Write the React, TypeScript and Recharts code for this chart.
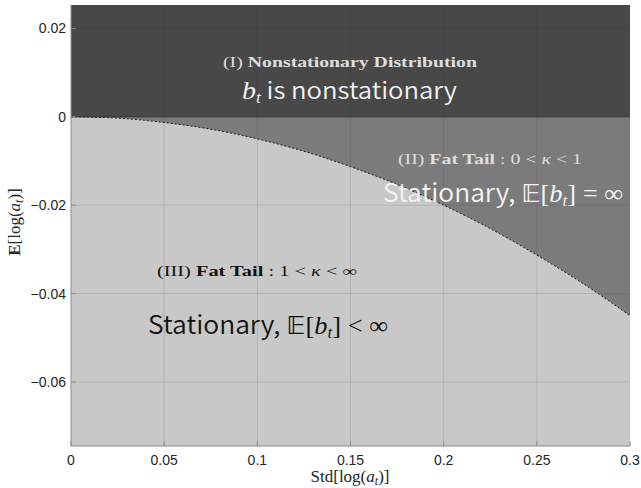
import {
  ComposedChart,
  Area,
  XAxis,
  YAxis,
  CartesianGrid,
  ReferenceArea,
  ReferenceLine,
} from "recharts";

// boundary curve
const stdLog = [0, 0.025, 0.05, 0.075, 0.1, 0.125, 0.15, 0.175, 0.2, 0.225, 0.25, 0.275, 0.3];
const meanLog = [0, -0.0003, -0.0013, -0.0028, -0.005, -0.0078, -0.0113, -0.0153, -0.02, -0.0253, -0.0313, -0.0378, -0.045];

const xTicks = [0, 0.05, 0.1, 0.15, 0.2, 0.25, 0.3];
const yTicks = [-0.06, -0.04, -0.02, 0, 0.02];
const xGrid = [0.05, 0.1, 0.15, 0.2, 0.25];
const yGrid = [-0.06, -0.04, -0.02, 0.02];

const data = stdLog.map((s, i) => ({ s, m: meanLog[i] }));

const fmt = (v: number) => (v < 0 ? "\u2212" + String(-v) : String(v));
const empty = () => "";

const serif = "'Liberation Serif', 'DejaVu Serif', serif";
const sans = "'Noto Sans CJK JP', 'Noto Sans', sans-serif";
const math = "'DejaVu Sans', 'Liberation Serif', serif";

const tickStyle = { fontSize: 14, fill: "#262626", fontFamily: "'Liberation Sans', Arial, sans-serif" };

function Overlay() {
  return (
    <svg
      width={641}
      height={488}
      style={{ position: "absolute", left: 0, top: 0, pointerEvents: "none" }}
    >
      {/* region I */}
      <text x={223} y={67} textLength={254} lengthAdjust="spacingAndGlyphs" fill="#dedede" fontFamily={serif} fontSize={14}>
        <tspan>{"(I) "}</tspan>
        <tspan fontWeight="bold">Nonstationary Distribution</tspan>
      </text>
      <text x={242} y={99} textLength={215} lengthAdjust="spacingAndGlyphs" fill="#f2f2f2">
        <tspan fontFamily={serif} fontStyle="italic" fontSize={25}>b</tspan>
        <tspan fontFamily={serif} fontStyle="italic" fontSize={16} dy={4}>t</tspan>
        <tspan fontFamily={sans} fontWeight={350} fontSize={23} dy={-4}>{" is nonstationary"}</tspan>
      </text>

      {/* region II */}
      <text x={398} y={164} textLength={184} lengthAdjust="spacingAndGlyphs" fill="#dedede" fontFamily={serif} fontSize={14}>
        <tspan>{"(II) "}</tspan>
        <tspan fontWeight="bold">Fat Tail</tspan>
        <tspan>{" : 0 < "}</tspan>
        <tspan fontStyle="italic">κ</tspan>
        <tspan>{" < 1"}</tspan>
      </text>
      <text x={383} y={202} textLength={240} lengthAdjust="spacingAndGlyphs" fill="#f5f5f5" fontSize={25}>
        <tspan fontFamily={sans} fontWeight={350}>{"Stationary, "}</tspan>
        <tspan fontFamily={math}>{"\u{1D53C}"}</tspan>
        <tspan fontFamily={serif}>[</tspan>
        <tspan fontFamily={serif} fontStyle="italic">b</tspan>
        <tspan fontFamily={serif} fontStyle="italic" fontSize={16} dy={4}>t</tspan>
        <tspan fontFamily={serif} dy={-4}>{"] = ∞"}</tspan>
      </text>

      {/* region III */}
      <text x={157} y={276} textLength={200} lengthAdjust="spacingAndGlyphs" fill="#111" fontFamily={serif} fontSize={14}>
        <tspan>{"(III) "}</tspan>
        <tspan fontWeight="bold">Fat Tail</tspan>
        <tspan>{" : 1 < "}</tspan>
        <tspan fontStyle="italic">κ</tspan>
        <tspan>{" < ∞"}</tspan>
      </text>
      <text x={148} y={334} textLength={240} lengthAdjust="spacingAndGlyphs" fill="#111" fontSize={25}>
        <tspan fontFamily={sans} fontWeight={350}>{"Stationary, "}</tspan>
        <tspan fontFamily={math}>{"\u{1D53C}"}</tspan>
        <tspan fontFamily={serif}>[</tspan>
        <tspan fontFamily={serif} fontStyle="italic">b</tspan>
        <tspan fontFamily={serif} fontStyle="italic" fontSize={16} dy={4}>t</tspan>
        <tspan fontFamily={serif} dy={-4}>{"] < ∞"}</tspan>
      </text>

      {/* axis labels */}
      <text x={350} y={482} textAnchor="middle" fill="#262626" fontFamily={serif} fontSize={17}>
        <tspan>Std[log(</tspan>
        <tspan fontStyle="italic">a</tspan>
        <tspan fontStyle="italic" fontSize={12} dy={3}>t</tspan>
        <tspan dy={-3}>)]</tspan>
      </text>
      <text
        x={0}
        y={0}
        transform="translate(20 222) rotate(-90)"
        textAnchor="middle"
        fill="#262626"
        fontFamily={serif}
        fontSize={17}
      >
        <tspan fontWeight="bold">E</tspan>
        <tspan>[log(</tspan>
        <tspan fontStyle="italic">a</tspan>
        <tspan fontStyle="italic" fontSize={12} dy={3}>t</tspan>
        <tspan dy={-3}>)]</tspan>
      </text>
    </svg>
  );
}

export default function App() {
  return (
    <div style={{ position: "absolute", left: 0, top: 0, width: 641, height: 488, background: "#fff" }}>
      <ComposedChart
        width={641}
        height={488}
        data={data}
        margin={{ top: 5, right: 11, bottom: 0, left: 0 }}
      >
        <CartesianGrid fill="#c8c8c8" stroke="none" />
        <XAxis
          xAxisId="b"
          type="number"
          dataKey="s"
          domain={[0, 0.3]}
          ticks={xTicks}
          tickFormatter={fmt}
          allowDataOverflow
          height={42}
          stroke="#8c8c8c"
          tickSize={-5}
          tickMargin={14}
          tick={tickStyle}
        />
        <XAxis
          xAxisId="t"
          orientation="top"
          type="number"
          dataKey="s"
          domain={[0, 0.3]}
          ticks={xTicks}
          tickFormatter={empty}
          allowDataOverflow
          height={0}
          stroke="#b8b8b8"
          tickSize={-5}
        />
        <YAxis
          yAxisId="l"
          type="number"
          domain={[-0.0745, 0.0253]}
          ticks={yTicks}
          tickFormatter={fmt}
          allowDataOverflow
          width={71}
          stroke="#8c8c8c"
          tickSize={-5}
          tickMargin={10}
          tick={tickStyle}
        />
        <YAxis
          yAxisId="r"
          orientation="right"
          type="number"
          domain={[-0.0745, 0.0253]}
          ticks={yTicks}
          tickFormatter={empty}
          allowDataOverflow
          width={0}
          stroke="#b8b8b8"
          tickSize={-5}
        />
        <ReferenceArea
          xAxisId="b"
          yAxisId="l"
          x1={0}
          x2={0.3}
          y1={0}
          y2={0.0253}
          fill="#484848"
          fillOpacity={1}
          stroke="none"
          ifOverflow="hidden"
        />
        <Area
          xAxisId="b"
          yAxisId="l"
          type="monotone"
          dataKey="m"
          baseValue={0}
          fill="#7b7b7b"
          fillOpacity={1}
          stroke="#1e1e1e"
          strokeWidth={1}
          strokeDasharray="2 2"
          isAnimationActive={false}
          dot={false}
          activeDot={false}
        />
        {xGrid.map((v) => (
          <ReferenceLine key={"x" + v} xAxisId="b" yAxisId="l" x={v} stroke="#262626" strokeOpacity={0.12} />
        ))}
        {yGrid.map((v) => (
          <ReferenceLine key={"y" + v} xAxisId="b" yAxisId="l" y={v} stroke="#262626" strokeOpacity={0.12} />
        ))}
        <ReferenceLine xAxisId="b" yAxisId="l" y={0} stroke="#2a2a2a" strokeWidth={1} />
      </ComposedChart>
      <Overlay />
    </div>
  );
}
